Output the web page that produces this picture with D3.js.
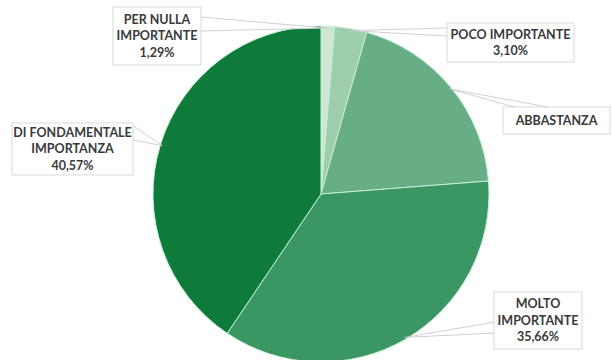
<!DOCTYPE html>
<html><head><meta charset="utf-8">
<script src="https://cdn.jsdelivr.net/npm/d3@7"></script>
<style>body{margin:0;background:#fff}svg{display:block}</style>
</head><body><svg id="c" width="612" height="360"></svg>
<script>
const categories = ["PER NULLA IMPORTANTE","POCO IMPORTANTE","ABBASTANZA","MOLTO IMPORTANTE","DI FONDAMENTALE IMPORTANZA"];
const values = [1.29, 3.10, 19.38, 35.66, 40.57];
const labelLines = [["PER NULLA","IMPORTANTE","1,29%"],["POCO IMPORTANTE","3,10%"],["ABBASTANZA"],["MOLTO","IMPORTANTE","35,66%"],["DI FONDAMENTALE","IMPORTANZA","40,57%"]];
const colors = ["#cfe6d6","#9dcfae","#67ad85","#3a9662","#0f7b3a"];

// layout: label boxes [x,y,w,h] and wedge base points on box edge
const boxes = [
  {x:113,y:7,w:88,h:58, base:[[200,17],[200,31]]},
  {x:447,y:23,w:127,h:39, base:[[448,28],[448,36]]},
  {x:503,y:107,w:107,h:27, base:[[518,108],[553,108]]},
  {x:494,y:292,w:88,h:57, base:[[495,322],[495,333]]},
  {x:12,y:123,w:121,h:52, base:[[132,125],[132,140]]}
];

const svg = d3.select("#c");
const cx = 321, cy = 194, r = 168;
const pie = d3.pie().sort(null).value(d=>d)(values);
const arc = d3.arc().innerRadius(0).outerRadius(r);
const g = svg.append("g").attr("transform",`translate(${cx},${cy})`);
g.selectAll("path").data(pie).enter().append("path")
  .attr("d",arc).attr("fill",(d,i)=>colors[i])
  .attr("stroke","#c8f0d4").attr("stroke-width",1);

pie.forEach((d,i)=>{
  const a = (d.startAngle+d.endAngle)/2;
  const px = cx + (r-2)*Math.sin(a), py = cy - (r-2)*Math.cos(a);
  const b = boxes[i];
  svg.append("polygon")
    .attr("points",[[px,py],b.base[0],b.base[1]].map(p=>p.join(",")).join(" "))
    .attr("fill","#fff").attr("stroke","#c4c4c4").attr("stroke-width",0.8);
});
pie.forEach((d,i)=>{
  const b = boxes[i];
  svg.append("rect").attr("x",b.x).attr("y",b.y).attr("width",b.w).attr("height",b.h)
    .attr("fill","#fff").attr("stroke","#d0d0d0").attr("stroke-width",0.8);
  const lines = labelLines[i];
  const lh = 16.5;
  const startY = b.y + b.h/2 - (lines.length-1)*lh/2;
  const t = svg.append("text").attr("text-anchor","middle")
    .attr("font-family","Lato, 'Open Sans', sans-serif").attr("font-weight","bold")
    .attr("font-size","12.5px").attr("fill","#3a3a3a");
  lines.forEach((s,k)=>{
    t.append("tspan").attr("x",b.x+b.w/2).attr("y",startY+k*lh).attr("dy","0.35em").text(s);
  });
});
</script></body></html>
